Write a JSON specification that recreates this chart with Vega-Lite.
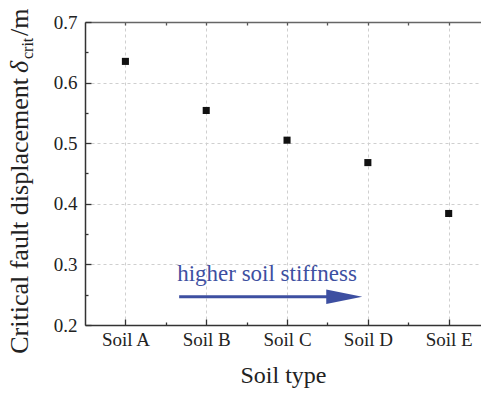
{
  "$schema": "https://vega.github.io/schema/vega-lite/v6.json",
  "width": 396,
  "height": 303,
  "autosize": {"type": "none"},
  "padding": {"left": 85, "top": 22, "right": 0, "bottom": 68},
  "background": "white",
  "config": {
    "view": {"stroke": null},
    "font": "Liberation Serif",
    "axis": {"labelFont": "Liberation Serif", "titleFont": "Liberation Serif"}
  },
  "resolve": {"axis": {"x": "independent", "y": "independent"}},
  "layer": [
    {
      "data": {"values": [
        {"idx": 0, "soil": "Soil A", "delta": 0.635},
        {"idx": 1, "soil": "Soil B", "delta": 0.554},
        {"idx": 2, "soil": "Soil C", "delta": 0.505},
        {"idx": 3, "soil": "Soil D", "delta": 0.468},
        {"idx": 4, "soil": "Soil E", "delta": 0.384}
      ]},
      "mark": {"type": "point", "shape": "square", "filled": true, "size": 50, "color": "#111111", "opacity": 1},
      "encoding": {
        "x": {
          "field": "idx", "type": "quantitative",
          "scale": {"domain": [-0.5, 4.4], "nice": false, "zero": false},
          "axis": {
            "orient": "bottom",
            "values": [0, 0.5, 1, 1.5, 2, 2.5, 3, 3.5, 4],
            "labelExpr": "datum.value % 1 == 0 ? ['Soil A','Soil B','Soil C','Soil D','Soil E'][datum.value] : ''",
            "labelFontSize": 19, "labelColor": "#222222", "labelPadding": 11,
            "labelFlush": false, "labelOverlap": false,
            "tickSize": {"condition": {"test": "datum.value % 1 != 0", "value": -3}, "value": -6},
            "tickColor": "#333333", "tickWidth": 1.3,
            "domainColor": "#333333", "domainWidth": 1.5,
            "grid": true, "gridDash": [3, 3], "gridColor": "#cfcfcf", "gridWidth": 1,
            "gridOpacity": {"condition": {"test": "datum.value % 1 != 0", "value": 0}, "value": 1},
            "title": "Soil type", "titleFontSize": 24, "titleFontWeight": "normal",
            "titleColor": "#222222", "titlePadding": 11
          }
        },
        "y": {
          "field": "delta", "type": "quantitative",
          "scale": {"domain": [0.2, 0.7], "nice": false, "zero": false},
          "axis": {
            "orient": "left",
            "values": [0.2, 0.25, 0.3, 0.35, 0.4, 0.45, 0.5, 0.55, 0.6, 0.65, 0.7],
            "labelExpr": "round(datum.value*100) % 10 == 0 ? format(datum.value, '.1f') : ''",
            "labelFontSize": 19, "labelColor": "#222222", "labelPadding": 14,
            "labelFlush": false, "labelOverlap": false,
            "tickSize": {"condition": {"test": "round(datum.value*100) % 10 != 0", "value": -3}, "value": -6},
            "tickColor": "#333333", "tickWidth": 1.3,
            "domainColor": "#333333", "domainWidth": 1.5,
            "grid": true, "gridDash": [3, 3], "gridColor": "#cfcfcf", "gridWidth": 1,
            "gridOpacity": {"condition": {"test": "round(datum.value*100) % 10 != 0", "value": 0}, "value": 1},
            "title": null
          }
        }
      }
    },
    {
      "data": {"values": [{}]},
      "mark": {"type": "rule", "color": "#3d4fa1", "strokeWidth": 3},
      "encoding": {
        "x": {
          "datum": 0.665, "type": "quantitative",
          "axis": {
            "orient": "top",
            "values": [0, 0.5, 1, 1.5, 2, 2.5, 3, 3.5, 4],
            "labels": false, "tickSize": -3, "tickColor": "#555555", "tickWidth": 1.3,
            "domainColor": "#666666", "domainWidth": 1.5, "grid": false, "title": null
          }
        },
        "x2": {"datum": 2.536},
        "y": {"datum": 0.2467, "type": "quantitative", "axis": null}
      }
    },
    {
      "data": {"values": [{}]},
      "mark": {"type": "point", "shape": "M-1,-0.4L1,0L-1,0.4Z", "size": 1296, "filled": true, "color": "#3d4fa1", "opacity": 1, "strokeWidth": 0},
      "encoding": {
        "x": {"datum": 2.708, "type": "quantitative", "axis": null},
        "y": {"datum": 0.2467, "type": "quantitative", "axis": null}
      }
    },
    {
      "data": {"values": [{}]},
      "mark": {"type": "text", "text": "higher soil stiffness", "align": "left", "baseline": "alphabetic", "font": "Liberation Serif", "fontSize": 23, "color": "#3d4fa1"},
      "encoding": {
        "x": {"datum": 0.64, "type": "quantitative", "axis": null},
        "y": {"datum": 0.2726, "type": "quantitative", "axis": null}
      }
    },
    {
      "data": {"values": [{}]},
      "mark": {"type": "text", "text": "Critical fault displacement", "align": "right", "baseline": "alphabetic", "angle": 270, "font": "Liberation Serif", "fontSize": 26, "color": "#222222"},
      "encoding": {
        "x": {"datum": -1.205, "type": "quantitative", "axis": null},
        "y": {"datum": 0.6076, "type": "quantitative", "axis": null}
      }
    },
    {
      "data": {"values": [{}]},
      "mark": {"type": "text", "text": "δ", "align": "left", "baseline": "alphabetic", "angle": 270, "font": "Liberation Serif", "fontStyle": "italic", "fontSize": 26, "color": "#222222"},
      "encoding": {
        "x": {"datum": -1.205, "type": "quantitative", "axis": null},
        "y": {"datum": 0.6158, "type": "quantitative", "axis": null}
      }
    },
    {
      "data": {"values": [{}]},
      "mark": {"type": "text", "text": "crit", "align": "left", "baseline": "alphabetic", "angle": 270, "font": "Liberation Serif", "fontSize": 16, "color": "#222222"},
      "encoding": {
        "x": {"datum": -1.143, "type": "quantitative", "axis": null},
        "y": {"datum": 0.6389, "type": "quantitative", "axis": null}
      }
    },
    {
      "data": {"values": [{}]},
      "mark": {"type": "text", "text": "/m", "align": "left", "baseline": "alphabetic", "angle": 270, "font": "Liberation Serif", "fontSize": 26, "color": "#222222"},
      "encoding": {
        "x": {"datum": -1.205, "type": "quantitative", "axis": null},
        "y": {"datum": 0.6769, "type": "quantitative", "axis": null}
      }
    }
  ]
}
